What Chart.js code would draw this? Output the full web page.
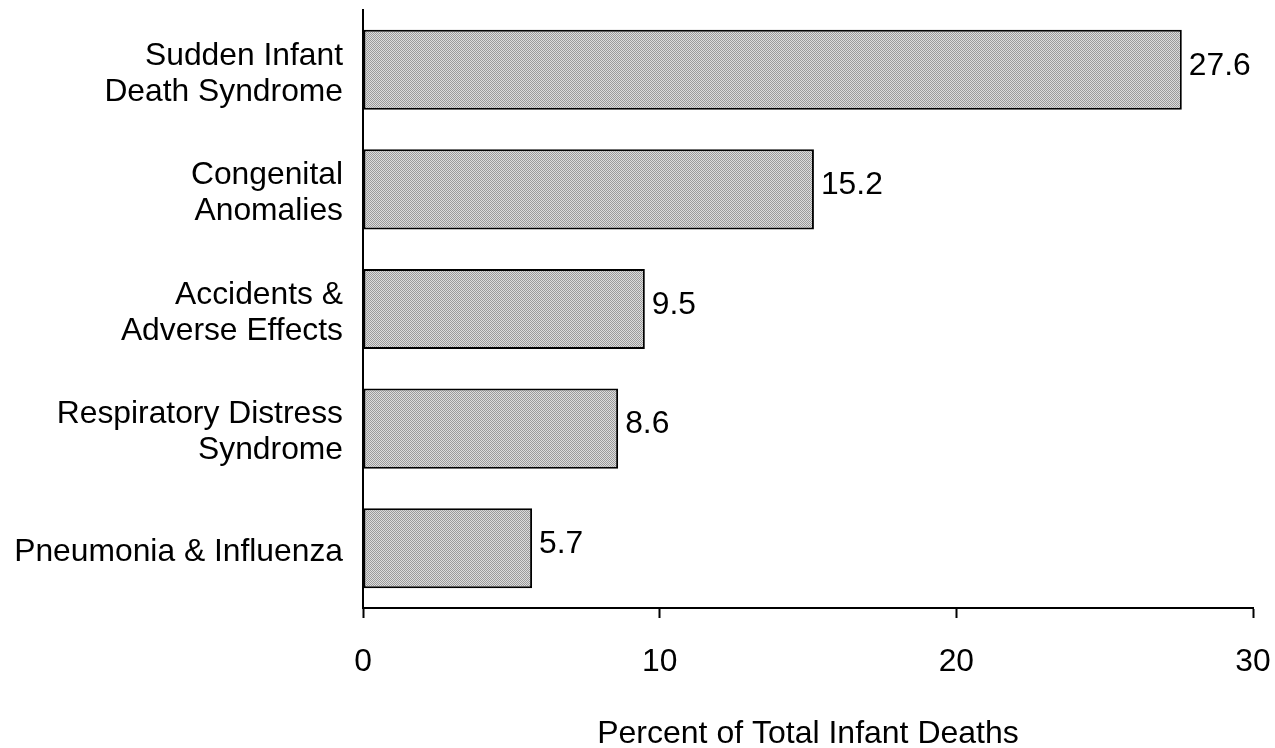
<!DOCTYPE html>
<html>
<head>
<meta charset="utf-8">
<script src="https://cdn.jsdelivr.net/npm/chart.js@4.4.1/dist/chart.umd.min.js"></script>
<style>
  html, body { margin: 0; padding: 0; background: #fff; }
  #wrap { width: 1275px; height: 748px; }
</style>
</head>
<body>
<div id="wrap"><canvas id="causeChart" width="1275" height="748"></canvas></div>
<script>
const CAUSES = [
  ["Sudden Infant", "Death Syndrome"],
  ["Congenital", "Anomalies"],
  ["Accidents &", "Adverse Effects"],
  ["Respiratory Distress", "Syndrome"],
  "Pneumonia & Influenza",
];
const PERCENTS = [27.6, 15.2, 9.5, 8.6, 5.7];
const X_TICKS = [0, 10, 20, 30];
const X_TITLE = "Percent of Total Infant Deaths";

const FONT_FAMILY = "'Liberation Sans', Arial, sans-serif";
const FONT_SIZE = 31.8;

// halftone-ish grey fill like the scanned original
function makeStipple() {
  const c = document.createElement("canvas");
  c.width = 2;
  c.height = 2;
  const g = c.getContext("2d");
  g.fillStyle = "#dcdcdc";
  g.fillRect(0, 0, 2, 2);
  g.fillStyle = "#9a9a9a";
  g.fillRect(0, 0, 1, 1);
  g.fillRect(1, 1, 1, 1);
  return g.createPattern(c, "repeat");
}

const valueLabels = {
  id: "valueLabels",
  afterDatasetsDraw(chart) {
    const { ctx } = chart;
    const meta = chart.getDatasetMeta(0);
    ctx.save();
    ctx.font = `${FONT_SIZE}px ${FONT_FAMILY}`;
    ctx.fillStyle = "#000";
    ctx.textAlign = "left";
    ctx.textBaseline = "middle";
    meta.data.forEach((bar, i) => {
      ctx.fillText(PERCENTS[i].toFixed(1), bar.x + 7, bar.y - 4);
    });
    ctx.restore();
  },
};

const ctx = document.getElementById("causeChart").getContext("2d");
new Chart(ctx, {
  type: "bar",
  data: {
    labels: CAUSES,
    datasets: [
      {
        data: PERCENTS,
        backgroundColor: makeStipple(),
        borderColor: "#000",
        borderWidth: 2,
        borderSkipped: false,
        barPercentage: 0.67,
        categoryPercentage: 1,
      },
    ],
  },
  options: {
    indexAxis: "y",
    responsive: false,
    animation: false,
    layout: { padding: { top: 10, right: 22, bottom: 0, left: 0 } },
    plugins: {
      legend: { display: false },
      tooltip: { enabled: false },
    },
    scales: {
      x: {
        min: 0,
        max: 30,
        afterBuildTicks: (scale) => {
          scale.ticks = X_TICKS.map((v) => ({ value: v }));
        },
        afterFit: (scale) => {
          scale.height = 140;
          scale.paddingLeft = 0;
          scale.paddingRight = 0;
        },
        grid: {
          drawOnChartArea: false,
          drawTicks: true,
          tickLength: 10,
          tickWidth: 2,
          color: "#000",
        },
        border: { display: true, color: "#000", width: 2 },
        ticks: {
          padding: 25,
          color: "#000",
          font: { family: FONT_FAMILY, size: FONT_SIZE, lineHeight: 1.2 },
        },
        title: {
          display: true,
          text: X_TITLE,
          color: "#000",
          padding: { top: 0, bottom: 0 },
          font: { family: FONT_FAMILY, size: 32, lineHeight: 0.875 },
        },
      },
      y: {
        afterFit: (scale) => {
          scale.width = 363;
          scale.paddingTop = 0;
          scale.paddingBottom = 0;
        },
        grid: { display: false },
        border: { display: true, color: "#000", width: 2 },
        ticks: {
          padding: 12,
          labelOffset: 4,
          color: "#000",
          font: { family: FONT_FAMILY, size: FONT_SIZE, lineHeight: 1.13 },
        },
      },
    },
  },
  plugins: [valueLabels],
});
</script>
</body>
</html>
